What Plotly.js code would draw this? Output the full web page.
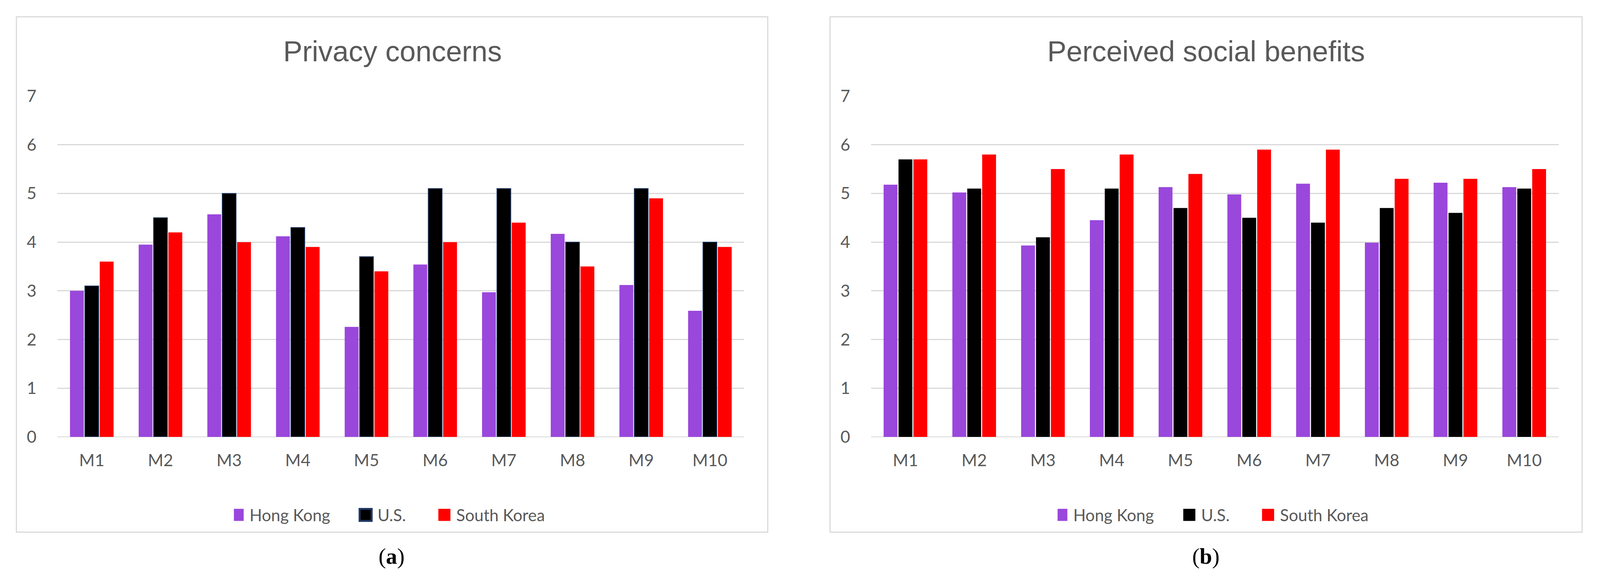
<!DOCTYPE html>
<html>
<head>
<meta charset="utf-8">
<script src="https://cdn.plot.ly/plotly-3.0.1.min.js"></script>
<style>html,body{margin:0;padding:0;background:#fff;overflow:hidden;}#chart{width:100vw;height:100vh;}</style>
</head>
<body>
<div id="chart"></div>
<script>
// ---- data ----
const categories = ['M1','M2','M3','M4','M5','M6','M7','M8','M9','M10'];
const seriesNames = ['Hong Kong','U.S.','South Korea'];
const privacyHK = [3.0, 3.95, 4.57, 4.12, 2.26, 3.54, 2.97, 4.17, 3.12, 2.59];
const privacyUS = [3.1, 4.5, 5.0, 4.3, 3.7, 5.1, 5.1, 4.0, 5.1, 4.0];
const privacySK = [3.6, 4.2, 4.0, 3.9, 3.4, 4.0, 4.4, 3.5, 4.9, 3.9];
const benefitHK = [5.18, 5.02, 3.93, 4.45, 5.13, 4.98, 5.2, 3.99, 5.22, 5.13];
const benefitUS = [5.7, 5.1, 4.1, 5.1, 4.7, 4.5, 4.4, 4.7, 4.6, 5.1];
const benefitSK = [5.7, 5.8, 5.5, 5.8, 5.4, 5.9, 5.9, 5.3, 5.3, 5.5];
const yTicks = [0,1,2,3,4,5,6,7];
const titles = ['Privacy concerns','Perceived social benefits'];
const panelLabels = ['(<b>a</b>)','(<b>b</b>)'];

// ---- styles ----
const colors = ['#9a47dc', '#000000', '#ff0000'];
const RW = 4289, RH = 1483;                 // reference frame
const W = window.innerWidth || RW, H = window.innerHeight || RH;
const s = W / RW;                            // scale for pixel sizes
const px = v => v / RW;
const py = v => 1 - v / RH;
const tickFont = {family: 'Lato, sans-serif', size: 45 * s, color: '#595959'};
const gridCol = '#d9d9d9';
const legendWidths = [296, 164, 290];

function barTrace(name, vals, i, xa, ya, leg, outline) {
  return {
    type: 'bar', name: name, x: categories, y: vals,
    xaxis: xa, yaxis: ya, legend: leg, legendwidth: legendWidths[i] * s,
    marker: {color: colors[i], line: {color: outline ? '#1f3864' : colors[i], width: outline ? 2 * s : 0}},
    hoverinfo: 'none'
  };
}

const data = [
  barTrace(seriesNames[0], privacyHK, 0, 'x', 'y', 'legend', false),
  barTrace(seriesNames[1], privacyUS, 1, 'x', 'y', 'legend', true),
  barTrace(seriesNames[2], privacySK, 2, 'x', 'y', 'legend', false),
  barTrace(seriesNames[0], benefitHK, 0, 'x2', 'y2', 'legend2', false),
  barTrace(seriesNames[1], benefitUS, 1, 'x2', 'y2', 'legend2', false),
  barTrace(seriesNames[2], benefitSK, 2, 'x2', 'y2', 'legend2', false)
];

function xAx(dom, anchor) {
  return {domain: dom, anchor: anchor, type: 'category', showgrid: false, showline: false,
          zeroline: false, ticks: 'outside', ticklen: 24 * s, tickcolor: 'rgba(0,0,0,0)',
          tickfont: tickFont, fixedrange: true};
}
function yAx(anchor) {
  return {domain: [py(1119), py(246)], anchor: anchor, range: [0, 7], tickvals: yTicks,
          showgrid: true, gridcolor: gridCol, gridwidth: 3 * s, zeroline: true, zerolinecolor: gridCol,
          zerolinewidth: 3 * s, showline: false, ticks: 'outside', ticklen: 46 * s,
          tickcolor: 'rgba(0,0,0,0)', tickfont: tickFont, fixedrange: true};
}
function legendObj(x) {
  return {orientation: 'h', x: x, xanchor: 'left', y: py(1319), yanchor: 'middle',
          font: {family: 'Lato, sans-serif', size: 44 * s, color: '#595959'},
          bgcolor: 'rgba(0,0,0,0)', borderwidth: 0,
          itemclick: false, itemdoubleclick: false};
}

const layout = {
  width: W, height: H,
  margin: {l: 0, r: 0, t: 0, b: 0, pad: 0},
  paper_bgcolor: '#ffffff', plot_bgcolor: 'rgba(0,0,0,0)',
  barmode: 'group', bargap: 0.35, bargroupgap: 0.07,
  showlegend: true,
  xaxis: xAx([px(154), px(1995)], 'y'),
  yaxis: yAx('x'),
  xaxis2: xAx([px(2335), px(4178)], 'y2'),
  yaxis2: yAx('x2'),
  legend: legendObj(px(627)),
  legend2: legendObj(px(2835)),
  shapes: [
    {type: 'rect', xref: 'paper', yref: 'paper', x0: px(44), x1: px(2058), y0: py(1363), y1: py(43),
     line: {color: gridCol, width: 3 * s}, fillcolor: 'rgba(0,0,0,0)', layer: 'below'},
    {type: 'rect', xref: 'paper', yref: 'paper', x0: px(2225), x1: px(4241), y0: py(1363), y1: py(43),
     line: {color: gridCol, width: 3 * s}, fillcolor: 'rgba(0,0,0,0)', layer: 'below'}
  ],
  annotations: [
    {text: titles[0], xref: 'paper', yref: 'paper', x: px(1052), y: py(132), xanchor: 'center', yanchor: 'middle',
     showarrow: false, font: {family: 'Liberation Sans, Arial, sans-serif', size: 77 * s, color: '#595959'}},
    {text: titles[1], xref: 'paper', yref: 'paper', x: px(3233), y: py(132), xanchor: 'center', yanchor: 'middle',
     showarrow: false, font: {family: 'Liberation Sans, Arial, sans-serif', size: 77 * s, color: '#595959'}},
    {text: panelLabels[0], xref: 'paper', yref: 'paper', x: px(1050), y: py(1425), xanchor: 'center', yanchor: 'middle',
     showarrow: false, font: {family: 'Liberation Serif, Times New Roman, serif', size: 60 * s, color: '#000000'}},
    {text: panelLabels[1], xref: 'paper', yref: 'paper', x: px(3232), y: py(1425), xanchor: 'center', yanchor: 'middle',
     showarrow: false, font: {family: 'Liberation Serif, Times New Roman, serif', size: 60 * s, color: '#000000'}}
  ]
};

Plotly.newPlot('chart', data, layout, {displayModeBar: false, staticPlot: true}).then(function (gd) {
  // enlarge the legend swatches to match the reference's square keys
  gd.querySelectorAll('.legendpoints path').forEach(function (p) {
    p.setAttribute('transform', 'translate(' + (10 * s) + ',0) scale(' + (2.7 * s) + ')');
  });
});
</script>
</body>
</html>
